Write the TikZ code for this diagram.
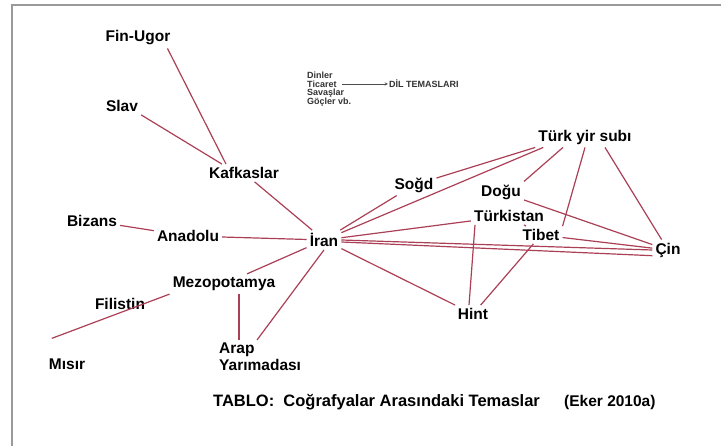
\documentclass[tikz,border=0pt]{standalone}
\usepackage{fontspec}
\setmainfont{Liberation Sans}
\definecolor{hatred}{HTML}{AA3F55}
\definecolor{cerceve}{HTML}{9A9A9A}
\tikzset{
  yer/.style={font=\fontsize{15.5}{17}\selectfont\bfseries, inner sep=3pt},
  lejant/.style={font=\fontsize{9}{9}\selectfont\bfseries, inner sep=1pt, text=black!80},
  bag/.style={draw=hatred, line width=1.2pt},
}
\begin{document}
\begin{tikzpicture}[x=1pt,y=-1pt]
\useasboundingbox (0,0) rectangle (721,446);
% cerceve
\draw[cerceve, line width=2pt] (12,446) -- (12,5) -- (721,5);

% bati
\node[yer] (finugor) at (138,38) {Fin-Ugor};
\node[yer] (slav) at (122,106) {Slav};
\node[yer] (kafkas) at (244,173) {Kafkaslar};
\node[yer] (bizans) at (92,221) {Bizans};
\node[yer] (anadolu) at (188,236) {Anadolu};
\node[yer] (iran) at (324,240) {İran};
\node[yer] (mezo) at (224,284) {Mezopotamya};
\node[yer] (filistin) at (120,304) {Filistin};
\node[yer] (misir) at (67,364) {Mısır};
\node[yer, align=left, anchor=north west] (arap) at (216,340) {Arap\\Yarımadası};

% dogu
\node[yer] (sogd) at (414,185) {Soğd};
\node[yer] (dogu) at (501,192) {Doğu};
\node[yer] (turkistan) at (509,216) {Türkistan};
\node[yer] (tibet) at (541,235) {Tibet};
\node[yer] (turk) at (585,137) {Türk yir subı};
\node[yer] (cin) at (668,250) {Çin};
\node[yer] (hint) at (473,314) {Hint};

% lejant
\node[lejant, anchor=west] (dinler) at (306,75) {Dinler};
\node[lejant, anchor=west] (ticaret) at (306,84) {Ticaret};
\node[lejant, anchor=west] (savas) at (306,93) {Savaşlar};
\node[lejant, anchor=west] (gocler) at (306,102) {Göçler vb.};
\node[lejant, anchor=west] (dil) at (388,84) {DİL TEMASLARI};
\draw[->, black!70, line width=0.5pt, >=stealth] ([xshift=4pt]ticaret.east) -- (dil.west);

% baglar
\draw[bag] ([xshift=-6pt]finugor.south east) -- ([xshift=-18pt]kafkas.north);
\draw[bag] (slav.south east) -- ([xshift=-22pt]kafkas.north);
\draw[bag] (kafkas) -- (iran);
\draw[bag] (bizans) -- (anadolu);
\draw[bag] (anadolu) -- (iran);
\draw[bag] (mezo) -- (iran);
\draw[bag] ([xshift=41pt]arap.north west) -- (iran.south);
\draw[bag] ([xshift=23pt]arap.north west) -- ([xshift=15pt]mezo.south);
\draw[bag] ([shift={(6pt,17pt)}]misir.north west) -- (mezo.south west);
\draw[bag] (iran) -- (sogd);
\draw[bag] (sogd) -- (turk.south west);
\draw[bag] (iran) -- ([xshift=8pt]turk.south west);
\draw[bag] (iran) -- (turkistan);
\draw[bag] (iran.east) -- (cin.west);
\draw[bag] ([yshift=-2pt]iran.east) -- (cin.200);
\draw[bag] (iran) -- (hint);
\draw[bag] ([xshift=-4pt]hint.north) -- ([xshift=-34pt]turkistan.south);
\draw[bag] (hint) -- (tibet);
\draw[bag] (turkistan) -- (tibet);
\draw[bag] ([xshift=-22pt]turk.south) -- (dogu.north east);
\draw[bag] (turk.south) -- (tibet.north east);
\draw[bag] ([xshift=20pt]turk.south) -- (cin);
\draw[bag] (dogu) -- (cin);
\draw[bag] (tibet) -- (cin);

% baslik
\node[yer, anchor=west, font=\fontsize{16.5}{18}\selectfont\bfseries] (tablo) at (210,402) {TABLO:\ \ Coğrafyalar Arasındaki Temaslar};
\node[yer, anchor=west] (kaynak) at (561,402) {(Eker 2010a)};
\end{tikzpicture}
\end{document}
